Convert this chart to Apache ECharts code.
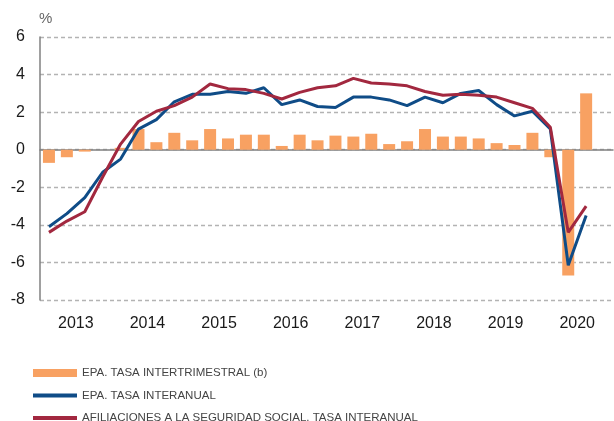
<!DOCTYPE html>
<html>
<head>
<meta charset="utf-8">
<script src="https://cdn.jsdelivr.net/npm/echarts@6/dist/echarts.min.js"></script>
<style>
  html, body { margin: 0; padding: 0; background: #fff; }
  #chart { width: 614px; height: 421px; }
</style>
</head>
<body>
<div id="chart"></div>
<script>
const years = ['2013', '2014', '2015', '2016', '2017', '2018', '2019', '2020'];

const quarters = [
    '2013-I', '2013-II', '2013-III', '2013-IV',
    '2014-I', '2014-II', '2014-III', '2014-IV',
    '2015-I', '2015-II', '2015-III', '2015-IV',
    '2016-I', '2016-II', '2016-III', '2016-IV',
    '2017-I', '2017-II', '2017-III', '2017-IV',
    '2018-I', '2018-II', '2018-III', '2018-IV',
    '2019-I', '2019-II', '2019-III', '2019-IV',
    '2020-I', '2020-II', '2020-III', '2020-IV'
];

// EPA. tasa intertrimestral (b)
const epaQuarterly = [
    -0.7, -0.4, -0.1, 0.0,
    0.1, 1.1, 0.4, 0.9,
    0.5, 1.1, 0.6, 0.8,
    0.8, 0.2, 0.8, 0.5,
    0.75, 0.7, 0.85, 0.3,
    0.45, 1.1, 0.7, 0.7,
    0.6, 0.35, 0.25, 0.9,
    -0.4, -6.7, 3.0, null
];

// EPA. tasa interanual
const epaAnnual = [
    -4.1, -3.4, -2.55, -1.2,
    -0.5, 1.1, 1.6, 2.55,
    2.95, 2.95, 3.1, 3.0,
    3.3, 2.4, 2.65, 2.3,
    2.25, 2.8, 2.8, 2.65,
    2.35, 2.8, 2.5, 3.0,
    3.15, 2.4, 1.8, 2.05,
    1.1, -6.15, -3.5, null
];

// Afiliaciones a la Seguridad Social. tasa interanual
const afiliaciones = [
    -4.4, -3.8, -3.3, -1.45,
    0.3, 1.5, 2.05, 2.35,
    2.8, 3.5, 3.25, 3.2,
    3.0, 2.7, 3.05, 3.3,
    3.4, 3.8, 3.55, 3.5,
    3.4, 3.1, 2.9, 2.95,
    2.9, 2.8, 2.5, 2.2,
    1.2, -4.4, -3.0, null
];

const yMin = -8;
const yMax = 6;
const yStep = 2;

const names = [
    'EPA. TASA INTERTRIMESTRAL (b)',
    'EPA. TASA INTERANUAL',
    'AFILIACIONES A LA SEGURIDAD SOCIAL. TASA INTERANUAL'
];

const orange = '#F8A162';
const blue = '#0F4C87';
const red = '#A2283F';
const axisGray = '#808080';
const labelColor = '#1a1a1a';

// thin bar for the line entries of the legend (44x8 box, 4px stroke in the middle)
const lineIcon = 'path://M0,0M0,2H44V6H0ZM44,8';

const chart = echarts.init(document.getElementById('chart'));

const yearTick = {
    interval: 3,
    length: 5,
    lineStyle: { color: axisGray, width: 1.5 }
};

const option = {
    animation: false,
    textStyle: { fontFamily: 'Liberation Sans, Arial, sans-serif' },
    title: {
        text: '%',
        left: 34,
        top: 6,
        textStyle: { fontSize: 15, fontWeight: 'normal', color: '#666' }
    },
    grid: { left: 40, right: 1, top: 37, bottom: 121 },
    legend: {
        orient: 'vertical',
        left: 33,
        top: 366,
        height: 80,
        padding: 0,
        itemWidth: 44,
        itemHeight: 8,
        itemGap: 8.5,
        textStyle: {
            fontFamily: '"Liberation Sans Narrow", "Arial Narrow", "Liberation Sans", sans-serif',
            fontSize: 11.5,
            lineHeight: 14,
            color: '#444'
        },
        data: [
            { name: names[0], icon: 'rect' },
            { name: names[1], icon: lineIcon },
            { name: names[2], icon: lineIcon }
        ]
    },
    xAxis: [
        {
            // axis line on zero, year ticks going down
            type: 'category',
            data: quarters,
            position: 'bottom',
            axisLine: { onZero: true, onZeroAxisIndex: 0, lineStyle: { color: axisGray, width: 1.5 } },
            axisTick: yearTick,
            axisLabel: { show: false },
            splitLine: { show: false }
        },
        {
            // same ticks going up, so they cross the zero line
            type: 'category',
            data: quarters,
            position: 'bottom',
            axisLine: { show: false, onZero: true, onZeroAxisIndex: 0 },
            axisTick: Object.assign({ inside: true }, yearTick),
            axisLabel: { show: false },
            splitLine: { show: false }
        },
        {
            // year labels at the bottom of the plot
            type: 'category',
            data: years,
            position: 'bottom',
            axisLine: { show: false, onZero: false },
            axisTick: { show: false },
            axisLabel: { fontSize: 16, color: labelColor, margin: 16 },
            splitLine: { show: false }
        }
    ],
    yAxis: {
        type: 'value',
        min: yMin,
        max: yMax,
        interval: yStep,
        position: 'left',
        axisLine: { show: true, onZero: false, lineStyle: { color: axisGray, width: 1.5 } },
        axisTick: { show: false },
        axisLabel: { fontSize: 16, color: labelColor, margin: 15 },
        splitLine: { lineStyle: { color: '#b3b3b3', type: [4, 3], width: 1.3 } }
    },
    series: [
        {
            name: names[0],
            type: 'bar',
            xAxisIndex: 0,
            data: epaQuarterly,
            barWidth: 12,
            itemStyle: { color: orange }
        },
        {
            name: names[1],
            type: 'line',
            xAxisIndex: 0,
            data: epaAnnual,
            symbol: 'none',
            lineStyle: { color: blue, width: 3 },
            itemStyle: { color: blue }
        },
        {
            name: names[2],
            type: 'line',
            xAxisIndex: 0,
            data: afiliaciones,
            symbol: 'none',
            lineStyle: { color: red, width: 3 },
            itemStyle: { color: red }
        }
    ]
};

chart.setOption(option);
</script>
</body>
</html>
